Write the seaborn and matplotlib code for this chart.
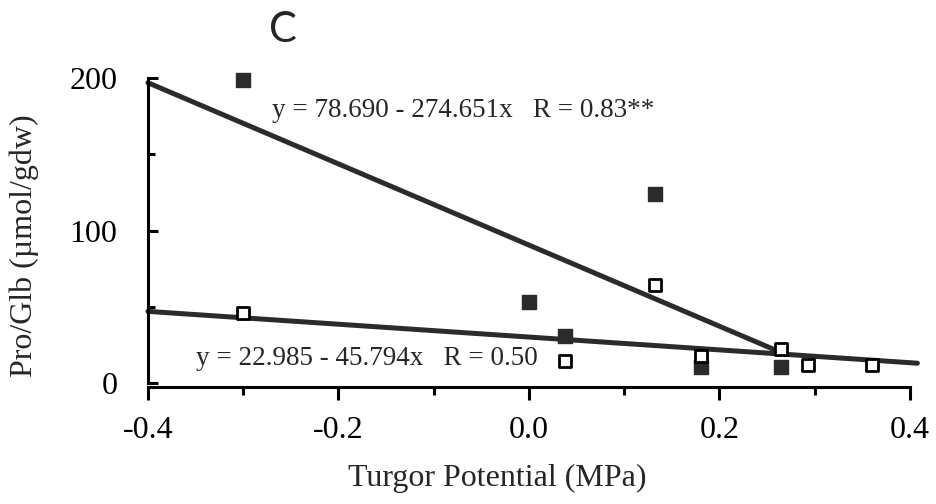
import matplotlib
matplotlib.use("Agg")
import matplotlib.pyplot as plt
import seaborn as sns
import pandas as pd
from matplotlib.ticker import MultipleLocator

# Data
filled_x = [-0.30, 0.00, 0.038, 0.132, 0.181, 0.265]
filled_y = [199, 53, 31, 124, 10.5, 10.5]
open_x = [-0.30, 0.038, 0.132, 0.181, 0.265, 0.293, 0.36]
open_y = [46, 14.5, 64, 18, 22, 12, 12]

fit1_x = [-0.40, 0.265]
fit1_y = [197, 20]
fit2_x = [-0.40, 0.408]
fit2_y = [47, 13]

eq1 = "y = 78.690 - 274.651x   R = 0.83**"
eq2 = "y = 22.985 - 45.794x   R = 0.50"
x_ticks = [-0.4, -0.2, 0.0, 0.2, 0.4]
x_ticklabels = ["-0.4", "-0.2", "0.0", "0.2", "0.4"]
y_ticks = [0, 100, 200]
y_ticklabels = ["0", "100", "200"]
panel = "C"
xlabel = "Turgor Potential (MPa)"
ylabel = "Pro/Glb (µmol/gdw)"

sns.set_style("white")
plt.rcParams["font.family"] = ["Liberation Serif", "DejaVu Serif"]
plt.rcParams["axes.unicode_minus"] = False

fig = plt.figure(figsize=(9.36, 5.04), dpi=100)
ax = fig.add_axes([0.158, 0.240, 0.814, 0.605])

dark = "#2b2b2b"
f1 = pd.DataFrame({"x": fit1_x, "y": fit1_y})
f2 = pd.DataFrame({"x": fit2_x, "y": fit2_y})
sns.lineplot(data=f1, x="x", y="y", ax=ax, color=dark, linewidth=3.6, clip_on=False)
sns.lineplot(data=f2, x="x", y="y", ax=ax, color=dark, linewidth=3.6, clip_on=False)

fd = pd.DataFrame({"x": filled_x, "y": filled_y})
od = pd.DataFrame({"x": open_x, "y": open_y})
sns.scatterplot(data=fd, x="x", y="y", ax=ax, marker="s", s=95, color=dark,
                edgecolor=dark, linewidth=1, clip_on=False, zorder=5)
sns.scatterplot(data=od, x="x", y="y", ax=ax, marker="s", s=75, facecolor="white",
                edgecolor="black", linewidth=2, clip_on=False, zorder=6)

ax.set_xlim(-0.4, 0.4)
ax.set_ylim(0, 200)
ax.set_xticks(x_ticks)
ax.set_xticklabels(x_ticklabels)
ax.set_yticks(y_ticks)
ax.set_yticklabels(y_ticklabels)
ax.xaxis.set_minor_locator(MultipleLocator(0.1))
ax.yaxis.set_minor_locator(MultipleLocator(50))

for s in ["top", "right"]:
    ax.spines[s].set_visible(False)
for s in ["left", "bottom"]:
    ax.spines[s].set_linewidth(2.2)
    ax.spines[s].set_color("black")
ax.spines["bottom"].set_position(("outward", 3))

ax.tick_params(axis="x", which="both", bottom=True, direction="out", width=2.2, colors="black")
ax.tick_params(axis="x", which="major", length=9, pad=12, labelsize=23)
ax.tick_params(axis="x", which="minor", length=6)
ax.tick_params(axis="y", which="both", left=True, direction="in", width=2.2, colors="black")
ax.tick_params(axis="y", which="major", length=7, pad=22, labelsize=23)
ax.tick_params(axis="y", which="minor", length=5)

ax.set_xlabel(xlabel, fontsize=23)
ax.set_ylabel(ylabel, fontsize=23)
ax.xaxis.set_label_coords(0.458, -0.313)
ax.xaxis.label.set_va("center")
ax.yaxis.set_label_coords(-0.162, 0.452)
ax.yaxis.label.set_va("center")

ax.text(-0.270, 179, eq1, fontsize=19.5, ha="left", va="center")
ax.text(-0.349, 16, eq2, fontsize=19.5, ha="left", va="center")

fig.text(283 / 936, 1 - 30 / 504, panel, fontsize=30, family=["Lato", "DejaVu Sans"],
         ha="center", va="center")

fig.savefig("out.png", dpi=100)
